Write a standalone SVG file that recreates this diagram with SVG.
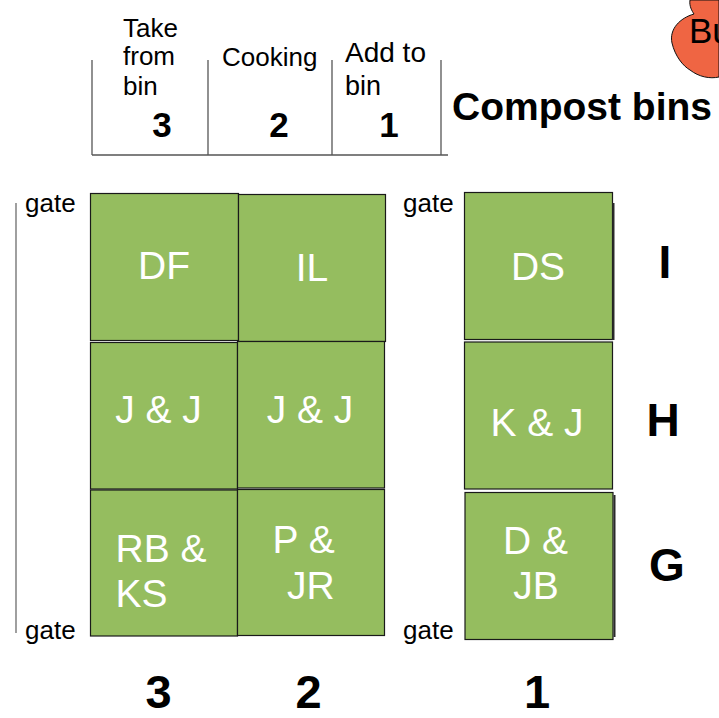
<svg xmlns="http://www.w3.org/2000/svg" width="719" height="718" viewBox="0 0 719 718">
<style>
.bin{fill:#95bd5f;stroke:#1a1a1a;stroke-width:1.2}
.lbl{font-family:"Liberation Sans",Arial,sans-serif;fill:#ffffff;font-size:39px}
.txt{font-family:"Liberation Sans",Arial,sans-serif;fill:#000000;font-size:26px}
.big{font-family:"Liberation Sans",Arial,sans-serif;fill:#000000;font-weight:bold}
.rule{stroke:#555555;stroke-width:1.3;fill:none}
.shadow{stroke:#2a2a2a;stroke-width:2;fill:none}
</style>
<rect width="719" height="718" fill="#ffffff"/>

<g id="cloud">
<path d="M690 0 C689 6 692 11 694 14 C680 18 669 29 672 43 C675 56 683 66 690 70 C699 77 710 79 719 77 L719 0 Z" fill="#ef6543" stroke="#111111" stroke-width="1"/>
<text x="689" y="43" class="txt" style="font-size:35px">Bu</text>
</g>

<g id="connectors">
<line class="rule" x1="92" y1="155" x2="448" y2="155"/>
<line class="rule" x1="92" y1="60" x2="92" y2="155"/>
<line class="rule" x1="208" y1="60" x2="208" y2="155"/>
<line class="rule" x1="332" y1="60" x2="332" y2="155"/>
<line class="rule" x1="441" y1="60" x2="441" y2="155"/>
<line x1="16" y1="203" x2="16" y2="633" stroke="#888888" stroke-width="1.6"/>
</g>

<g id="header">
<text class="txt" x="123" y="37">Take</text>
<text class="txt" x="123" y="65">from</text>
<text class="txt" x="123" y="95">bin</text>
<text class="txt" x="222" y="66">Cooking</text>
<text class="txt" x="345" y="62" style="font-size:28px">Add to</text>
<text class="txt" x="345" y="95" style="font-size:27px">bin</text>
<text class="big" x="162" y="137" text-anchor="middle" font-size="35">3</text>
<text class="big" x="279" y="137" text-anchor="middle" font-size="35">2</text>
<text class="big" x="389" y="137" text-anchor="middle" font-size="35">1</text>
<text class="big" x="452" y="120" font-size="39">Compost bins</text>
</g>

<g id="gates">
<text class="txt" x="25" y="212">gate</text>
<text class="txt" x="403" y="212">gate</text>
<text class="txt" x="25" y="639">gate</text>
<text class="txt" x="403" y="639">gate</text>
</g>

<g id="bin-DF">
<rect class="bin" x="90.5" y="193.5" width="148" height="147"/>
<text class="lbl" x="164" y="279" text-anchor="middle">DF</text>
</g>
<g id="bin-IL">
<rect class="bin" x="238.5" y="194.5" width="147" height="147"/>
<text class="lbl" x="312" y="280.5" text-anchor="middle">IL</text>
</g>
<g id="bin-DS">
<rect class="bin" x="464.5" y="192.5" width="148" height="147"/>
<line class="shadow" x1="613.5" y1="203" x2="613.5" y2="340"/>
<text class="lbl" x="538" y="280" text-anchor="middle">DS</text>
</g>

<g id="bin-JJ-3">
<rect class="bin" x="90.5" y="342.5" width="147" height="146.5"/>
<text class="lbl" x="158.5" y="423" text-anchor="middle">J &amp; J</text>
</g>
<g id="bin-JJ-2">
<rect class="bin" x="237.5" y="341.5" width="147" height="146.5"/>
<text class="lbl" x="310" y="423" text-anchor="middle">J &amp; J</text>
</g>
<g id="bin-KJ">
<rect class="bin" x="464.5" y="342" width="148" height="147"/>
<text class="lbl" x="537" y="436" text-anchor="middle">K &amp; J</text>
</g>

<g id="bin-RBKS">
<rect class="bin" x="90.5" y="490" width="147" height="146"/>
<text class="lbl" x="115.5" y="561.5">RB &amp;</text>
<text class="lbl" x="115.5" y="606.5">KS</text>
</g>
<g id="bin-PJR">
<rect class="bin" x="237.5" y="489.5" width="147" height="146"/>
<text class="lbl" x="272.5" y="553">P &amp;</text>
<text class="lbl" x="287" y="599">JR</text>
</g>
<g id="bin-DJB">
<rect class="bin" x="465" y="492.5" width="148" height="147"/>
<line class="shadow" x1="614.5" y1="495" x2="614.5" y2="637"/>
<text class="lbl" x="535.5" y="554" text-anchor="middle">D &amp;</text>
<text class="lbl" x="536" y="598.5" text-anchor="middle">JB</text>
</g>

<g id="rows">
<text class="big" x="665" y="278" text-anchor="middle" font-size="46">I</text>
<text class="big" x="663" y="436" text-anchor="middle" font-size="46">H</text>
<text class="big" x="667" y="581" text-anchor="middle" font-size="46">G</text>
</g>

<g id="columns">
<text class="big" x="158.5" y="708" text-anchor="middle" font-size="47">3</text>
<text class="big" x="308.5" y="708" text-anchor="middle" font-size="47">2</text>
<text class="big" x="537" y="708" text-anchor="middle" font-size="47">1</text>
</g>
</svg>
